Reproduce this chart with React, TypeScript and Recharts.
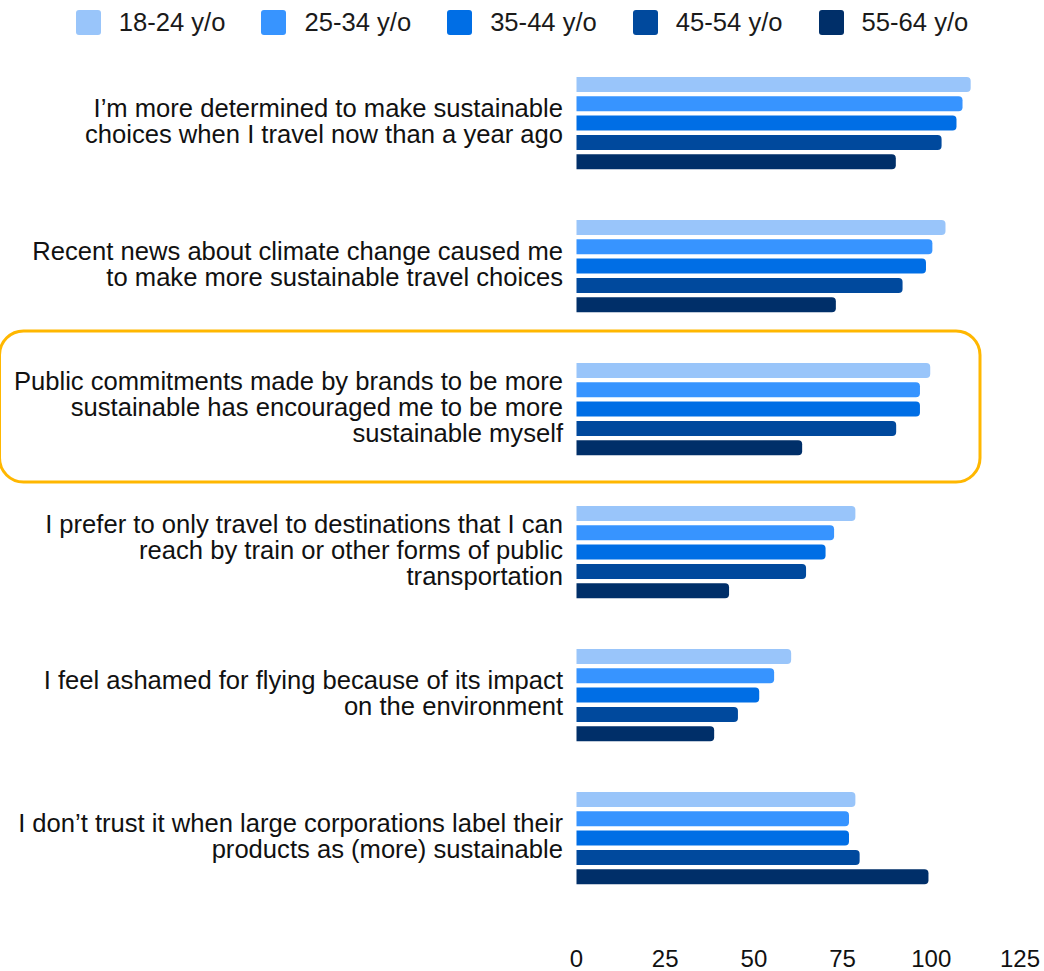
import React from "react";
import {
  BarChart,
  Bar,
  XAxis,
  YAxis,
  Legend,
  ReferenceArea,
} from "recharts";

// survey statements (line breaks as in the original slide)
const statements = [
  "I’m more determined to make sustainable\nchoices when I travel now than a year ago",
  "Recent news about climate change caused me\nto make more sustainable travel choices",
  "Public commitments made by brands to be more\nsustainable has encouraged me to be more\nsustainable myself",
  "I prefer to only travel to destinations that I can\nreach by train or other forms of public\ntransportation",
  "I feel ashamed for flying because of its impact\non the environment",
  "I don’t trust it when large corporations label their\nproducts as (more) sustainable",
];

const ageGroups = ["18-24 y/o", "25-34 y/o", "35-44 y/o", "45-54 y/o", "55-64 y/o"];
const ageColors = ["#99C5FA", "#3794FF", "#006EE5", "#00499D", "#002F69"];

const age18to24 = [111.1, 104.0, 99.7, 78.6, 60.5, 78.6];
const age25to34 = [108.8, 100.3, 96.8, 72.6, 55.7, 76.8];
const age35to44 = [107.1, 98.5, 96.8, 70.2, 51.5, 76.8];
const age45to54 = [102.9, 91.9, 90.1, 64.7, 45.5, 79.8];
const age55to64 = [90.0, 73.1, 63.6, 43.0, 38.8, 99.2];

const xTicks = [0, 25, 50, 75, 100, 125];

const highlighted = statements[2];

const FONT = '"Liberation Sans", Arial, Helvetica, sans-serif';
const LINE_HEIGHT = 26;
const LABEL_SIZE = 25.6;

const series = [age18to24, age25to34, age35to44, age45to54, age55to64];

const data = statements.map((label, i) => {
  const row: Record<string, string | number> = { label };
  ageGroups.forEach((g, j) => {
    row[g] = series[j][i];
  });
  return row;
});

function StatementTick(props: { x?: number; y?: number; payload?: { value: string } }) {
  const { x = 0, y = 0, payload } = props;
  const lines = String(payload?.value ?? "").split("\n");
  const start = -((lines.length - 1) * LINE_HEIGHT) / 2 - 2;
  return (
    <text x={x} y={y} textAnchor="end" fill="#111" fontSize={LABEL_SIZE} fontFamily={FONT}>
      {lines.map((line, i) => (
        <tspan key={i} x={x} y={y + start + i * LINE_HEIGHT} dy="0.35em">
          {line}
        </tspan>
      ))}
    </text>
  );
}

function AgeLegend() {
  return (
    <div
      style={{
        display: "flex",
        justifyContent: "center",
        alignItems: "center",
        gap: 36,
        height: 44,
        fontFamily: FONT,
        fontSize: LABEL_SIZE,
        color: "#1a1a1a",
      }}
    >
      {ageGroups.map((g, i) => (
        <div key={g} style={{ display: "flex", alignItems: "center", gap: 18 }}>
          <span
            style={{
              width: 25,
              height: 25,
              borderRadius: 3,
              background: ageColors[i],
              display: "inline-block",
            }}
          />
          <span>{g}</span>
        </div>
      ))}
    </div>
  );
}

function HighlightBox(props: { x?: number; y?: number; width?: number; height?: number }) {
  const { x = 0, y = 0, width = 0, height = 0 } = props;
  const left = -0.5;
  const right = x + width - 40;
  return (
    <rect
      x={left}
      y={y - 7}
      width={right - left}
      height={height + 8}
      rx={24}
      ry={24}
      fill="none"
      stroke="#FFB700"
      strokeWidth={3}
    />
  );
}

export default function App() {
  return (
    <div style={{ position: "absolute", left: 0, top: 0, background: "#fff" }}>
      <BarChart
        width={1044}
        height={971}
        data={data}
        layout="vertical"
        margin={{ top: 8, right: 24, bottom: 0, left: 0 }}
        barSize={15}
        barGap={4.3}
      >
        <XAxis
          type="number"
          domain={[0, 125]}
          ticks={xTicks}
          axisLine={false}
          tickLine={false}
          tickSize={0}
          tickMargin={40}
          height={61}
          tick={{ fontSize: 24, fill: "#111", fontFamily: FONT }}
        />
        <YAxis
          type="category"
          dataKey="label"
          width={576.5}
          axisLine={false}
          tickLine={false}
          tickSize={0}
          tickMargin={13.5}
          interval={0}
          tick={<StatementTick />}
        />
        <Legend
          verticalAlign="top"
          content={<AgeLegend />}
          wrapperStyle={{ top: 0, left: 0, width: 1044 }}
        />
        {ageGroups.map((g, i) => (
          <Bar
            key={g}
            dataKey={g}
            fill={ageColors[i]}
            radius={[0, 4, 4, 0]}
            isAnimationActive={false}
          />
        ))}
        <ReferenceArea
          y1={highlighted}
          y2={highlighted}
          ifOverflow="visible"
          shape={<HighlightBox />}
        />
      </BarChart>
    </div>
  );
}
